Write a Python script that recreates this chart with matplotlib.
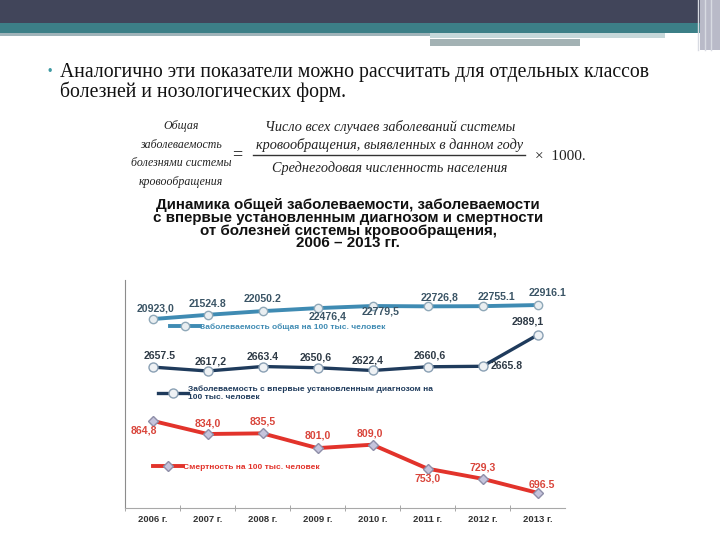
import matplotlib.pyplot as plt
from matplotlib.patches import Rectangle

# data
years = ["2006 г.", "2007 г.", "2008 г.", "2009 г.", "2010 г.", "2011 г.", "2012 г.", "2013 г."]

total = [20923.0, 21524.8, 22050.2, 22476.4, 22779.5, 22726.8, 22755.1, 22916.1]
total_lbl = ["20923,0", "21524.8", "22050.2", "22476,4", "22779,5", "22726,8", "22755.1", "22916.1"]

first = [2657.5, 2617.2, 2663.4, 2650.6, 2622.4, 2660.6, 2665.8, 2989.1]
first_lbl = ["2657.5", "2617,2", "2663.4", "2650,6", "2622,4", "2660,6", "2665.8", "2989,1"]

deaths = [864.8, 834.0, 835.5, 801.0, 809.0, 753.0, 729.3, 696.5]
deaths_lbl = ["864,8", "834,0", "835,5", "801,0", "809,0", "753,0", "729,3", "696.5"]

# label offsets in pixels (dx, dy), dy up
total_off = [(3, 11), (0, 11), (0, 12), (10, -8), (8, -6), (12, 9), (14, 9), (10, 12)]
first_off = [(7, 11), (3, 9), (0, 10), (-2, 10), (-5, 10), (2, 11), (24, 0), (-10, 13)]
deaths_off = [(-9, -10), (0, 10), (0, 12), (0, 13), (-3, 11), (0, -10), (0, 11), (4, 8)]

SERIF = ["Liberation Serif", "DejaVu Serif"]
SANS = ["Liberation Sans", "DejaVu Sans"]

fig = plt.figure(figsize=(7.2, 5.4), dpi=100)

# slide background in pixel coordinates
bg = fig.add_axes([0, 0, 1, 1])
bg.set_xlim(0, 720)
bg.set_ylim(540, 0)
bg.axis("off")

bg.add_patch(Rectangle((0, 0), 720, 23, color="#41455a", lw=0))
bg.add_patch(Rectangle((0, 23), 720, 10, color="#3c7f87", lw=0))
bg.add_patch(Rectangle((0, 33), 430, 2.5, color="#9fb3b9", lw=0))
bg.add_patch(Rectangle((430, 33), 235, 5, color="#c6d8da", lw=0))
bg.add_patch(Rectangle((430, 39), 150, 7, color="#a3b2b4", lw=0))
bg.add_patch(Rectangle((700, 0), 20, 50, color="#b9bac8", lw=0))
for xv in (698, 705, 711):
    bg.plot([xv, xv], [0, 50], color="#d8dbe2", lw=1)

bg.text(47, 72, "•", color="#3f9aa3", fontsize=9, va="center", family=SANS)
bg.text(60, 72, "Аналогично эти показатели можно рассчитать для отдельных классов",
        fontsize=14.2, va="center", family=SERIF, color="#111111")
bg.text(60, 92, "болезней и нозологических форм.",
        fontsize=14.2, va="center", family=SERIF, color="#111111")

# formula
left_lines = ["Общая", "заболеваемость", "болезнями системы", "кровообращения"]
for i, s in enumerate(left_lines):
    bg.text(181, 126 + i * 18.5, s, fontsize=8.6, style="italic", family=SERIF,
            ha="center", va="center", color="#222222")
bg.text(237, 155, "=", fontsize=13, ha="center", va="center", family=SERIF)
bg.text(390, 127, "Число всех случаев заболеваний системы", fontsize=10.3,
        style="italic", family=SERIF, ha="center", va="center", color="#222222")
bg.text(390, 145, "кровообращения, выявленных в данном году", fontsize=10.3,
        style="italic", family=SERIF, ha="center", va="center", color="#222222")
bg.plot([253, 525], [155, 155], color="#333333", lw=1)
bg.text(390, 168, "Среднегодовая численность населения", fontsize=10.3,
        style="italic", family=SERIF, ha="center", va="center", color="#222222")
bg.text(560, 157, "×  1000.", fontsize=11, ha="center", va="center", family=SERIF,
        color="#222222")

title_lines = ["Динамика общей заболеваемости, заболеваемости",
               "с впервые установленным диагнозом и смертности",
               "от болезней системы кровообращения,",
               "2006 – 2013 гг."]
for i, s in enumerate(title_lines):
    bg.text(348, 205 + i * 12.8, s, fontsize=10.9, weight="bold", family=SANS,
            ha="center", va="center", color="#111111")

# chart: three series, each on its own y scale in one frame
x = list(range(len(years)))
ax1 = fig.add_axes([125 / 720, 32 / 540, 440 / 720, 228 / 540])
ax2 = ax1.twinx()
ax3 = ax1.twinx()

ax1.set_ylim(-5900, 26470)
ax2.set_ylim(1202, 3557)
ax3.set_ylim(661, 1194)

c1, c2, c3 = "#3f8bb3", "#1f3b5c", "#e2332b"

l1, = ax1.plot(x, total, color=c1, lw=2.8, marker="o", ms=6,
               mfc="#e9eef1", mec="#8fa8b8", mew=1, zorder=3)
l2, = ax2.plot(x, first, color=c2, lw=2.4, marker="o", ms=6.5,
               mfc="#eef1f4", mec="#8aa0b4", mew=1, zorder=3)
l3, = ax3.plot(x, deaths, color=c3, lw=2.8, marker="D", ms=5.5,
               mfc="#c5c4dc", mec="#8e8ea8", mew=1, zorder=3)

for ax, vals, lbls, offs, col in [
    (ax1, total, total_lbl, total_off, "#3b5566"),
    (ax2, first, first_lbl, first_off, "#2e3a46"),
    (ax3, deaths, deaths_lbl, deaths_off, "#d9453b"),
]:
    for xi, v, s, (dx, dy) in zip(x, vals, lbls, offs):
        ax.annotate(s, (xi, v), xytext=(dx, dy), textcoords="offset pixels",
                    ha="center", va="center", fontsize=7.6, weight="bold",
                    color=col, family=SANS)

leg_kw = dict(frameon=False, handlelength=3.5, handletextpad=0.1,
              borderaxespad=0, prop={"family": SANS, "size": 6, "weight": "bold"})
lg1 = ax1.legend([l1], ["Заболеваемость общая на 100 тыс. человек"],
                 loc="center left", bbox_to_anchor=(42 / 440, 1 - 47 / 228), **leg_kw)
lg1.get_texts()[0].set_color(c1)
lg2 = ax2.legend([l2], ["Заболеваемость с впервые установленным диагнозом на\n"
                        "100 тыс. человек"],
                 loc="center left", bbox_to_anchor=(30 / 440, 1 - 113 / 228), **leg_kw)
lg2.get_texts()[0].set_color(c2)
lg3 = ax3.legend([l3], ["Смертность на 100 тыс. человек"],
                 loc="center left", bbox_to_anchor=(25 / 440, 1 - 187 / 228), **leg_kw)
lg3.get_texts()[0].set_color(c3)

ax1.set_xlim(-0.5, len(years) - 0.5)
ax1.set_xticks(x)
ax1.set_xticklabels(years, fontsize=6.8, weight="bold", color="#333333", family=SANS)
ax1.tick_params(axis="x", length=0, pad=5)
ax1.set_xticks([i - 0.5 for i in range(len(years))], minor=True)
ax1.tick_params(axis="x", which="minor", length=5, direction="inout", color="#999999")
ax1.set_yticks([])
for ax in (ax2, ax3):
    ax.set_yticks([])
    for sp in ax.spines.values():
        sp.set_visible(False)
for side in ("top", "right"):
    ax1.spines[side].set_visible(False)
ax1.spines["left"].set_color("#8c8c8c")
ax1.spines["bottom"].set_color("#a8a8a8")
ax1.patch.set_alpha(0)

fig.savefig("out.png", dpi=100)
